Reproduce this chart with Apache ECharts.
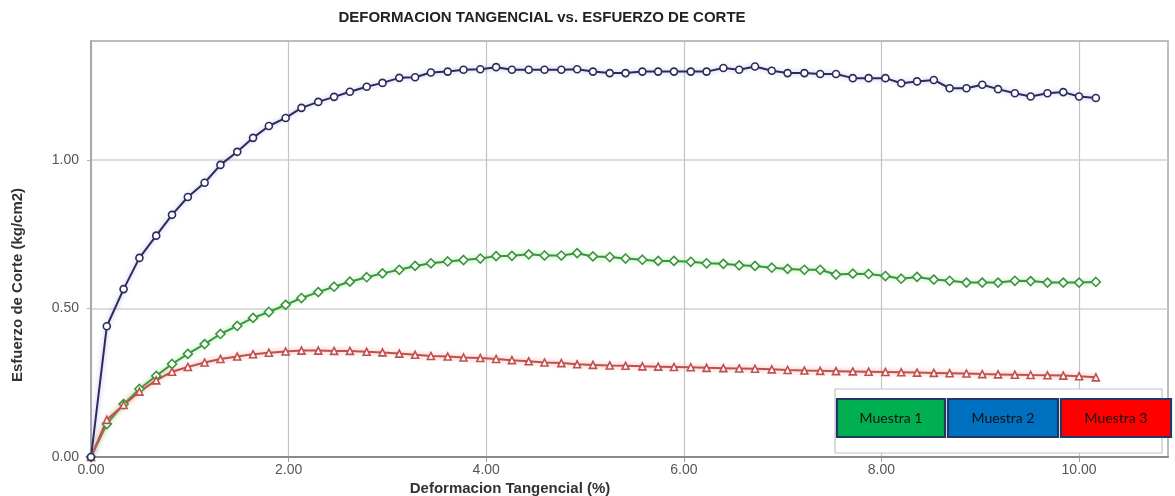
<!DOCTYPE html>
<html>
<head>
<meta charset="utf-8">
<script src="https://cdn.jsdelivr.net/npm/echarts@6/dist/echarts.min.js"></script>
<style>
html,body{margin:0;padding:0;background:#fff;}
#chart{width:1175px;height:496px;}
</style>
</head>
<body>
<div id="chart"></div>
<script>
// Deformacion tangencial (%) — shared x positions of the readings
var deformacion = [0, 0.16, 0.33, 0.49, 0.66, 0.82, 0.98, 1.15, 1.31, 1.48, 1.64, 1.80, 1.97, 2.13, 2.30, 2.46, 2.62, 2.79, 2.95, 3.12, 3.28, 3.44, 3.61, 3.77, 3.94, 4.10, 4.26, 4.43, 4.59, 4.76, 4.92, 5.08, 5.25, 5.41, 5.58, 5.74, 5.90, 6.07, 6.23, 6.40, 6.56, 6.72, 6.89, 7.05, 7.22, 7.38, 7.54, 7.71, 7.87, 8.04, 8.20, 8.36, 8.53, 8.69, 8.86, 9.02, 9.18, 9.35, 9.51, 9.68, 9.84, 10.00, 10.17];

// Esfuerzo de corte (kg/cm2)
var serieAzul = [0, 0.44, 0.565, 0.67, 0.745, 0.815, 0.875, 0.923, 0.983, 1.027, 1.074, 1.114, 1.141, 1.175, 1.195, 1.212, 1.229, 1.246, 1.259, 1.276, 1.278, 1.294, 1.297, 1.303, 1.305, 1.312, 1.303, 1.303, 1.303, 1.303, 1.305, 1.297, 1.292, 1.292, 1.297, 1.297, 1.297, 1.297, 1.297, 1.309, 1.303, 1.314, 1.300, 1.292, 1.292, 1.289, 1.289, 1.275, 1.275, 1.275, 1.258, 1.264, 1.269, 1.241, 1.241, 1.253, 1.238, 1.224, 1.213, 1.224, 1.228, 1.213, 1.208];

var serieVerde = [0, 0.111, 0.178, 0.229, 0.273, 0.313, 0.347, 0.380, 0.414, 0.441, 0.468, 0.488, 0.512, 0.535, 0.555, 0.573, 0.590, 0.605, 0.618, 0.630, 0.643, 0.652, 0.658, 0.663, 0.668, 0.676, 0.677, 0.682, 0.678, 0.678, 0.686, 0.675, 0.673, 0.668, 0.664, 0.660, 0.660, 0.657, 0.652, 0.650, 0.645, 0.643, 0.637, 0.633, 0.630, 0.630, 0.614, 0.617, 0.616, 0.609, 0.600, 0.606, 0.597, 0.593, 0.587, 0.587, 0.587, 0.593, 0.592, 0.587, 0.587, 0.587, 0.589];

var serieRoja = [0, 0.125, 0.175, 0.22, 0.258, 0.287, 0.303, 0.318, 0.330, 0.338, 0.346, 0.351, 0.355, 0.358, 0.358, 0.357, 0.357, 0.354, 0.352, 0.348, 0.344, 0.340, 0.338, 0.335, 0.333, 0.330, 0.326, 0.322, 0.318, 0.316, 0.312, 0.310, 0.308, 0.307, 0.305, 0.304, 0.303, 0.302, 0.300, 0.299, 0.298, 0.297, 0.295, 0.293, 0.291, 0.290, 0.289, 0.288, 0.287, 0.286, 0.285, 0.284, 0.283, 0.282, 0.281, 0.279, 0.278, 0.277, 0.276, 0.275, 0.274, 0.272, 0.268];

var ticksX = [0, 2, 4, 6, 8, 10];
var ticksY = [0, 0.5, 1.0];
var etiquetasLeyenda = ['Muestra 1', 'Muestra 2', 'Muestra 3'];
var tituloGrafico = 'DEFORMACION TANGENCIAL vs. ESFUERZO DE CORTE';
var tituloX = 'Deformacion Tangencial (%)';
var tituloY = 'Esfuerzo de Corte (kg/cm2)';

function pares(ys) {
  return deformacion.map(function (x, i) { return [x, ys[i]]; });
}

var FONT = '"Liberation Sans", Arial, sans-serif';
var chart = echarts.init(document.getElementById('chart'), null, {renderer: 'canvas'});

function serie(name, ys, color, glow, symbol, size) {
  return {
    name: name,
    type: 'line',
    data: pares(ys),
    symbol: symbol,
    symbolSize: size,
    showAllSymbol: true,
    lineStyle: {color: color, width: 2, shadowColor: glow, shadowBlur: 5},
    itemStyle: {color: '#ffffff', borderColor: color, borderWidth: 1.6},
    animation: false,
    z: 3
  };
}

var legendColors = ['#00B050', '#0070C0', '#FF0000'];
var legendX = [837, 948, 1061];
var legendW = [108, 110, 110];
var legendGraphics = [{
  type: 'rect',
  shape: {x: 835, y: 389, width: 327, height: 64},
  style: {fill: '#ffffff', stroke: '#c4c4c4', lineWidth: 1.2},
  z: 10
}];
etiquetasLeyenda.forEach(function (t, i) {
  legendGraphics.push({
    type: 'rect',
    shape: {x: legendX[i], y: 399, width: legendW[i], height: 38},
    style: {fill: legendColors[i], stroke: '#1F3864', lineWidth: 2.2},
    z: 11
  });
  legendGraphics.push({
    type: 'text',
    x: legendX[i] + legendW[i] / 2,
    y: 418,
    style: {text: t, fill: '#111111', font: '14px Lato, "Open Sans", sans-serif', textAlign: 'center', textVerticalAlign: 'middle'},
    z: 12
  });
});

var option = {
  backgroundColor: '#ffffff',
  animation: false,
  grid: {left: 91, right: 7, top: 41, bottom: 39, show: true, borderColor: '#a8a8a8', borderWidth: 1.5, containLabel: false},
  xAxis: {
    type: 'value', min: 0, max: 10.9, interval: 2,
    axisLine: {show: true, lineStyle: {color: '#8a8a8a', width: 2}},
    axisTick: {show: true, length: 5, customValues: ticksX, lineStyle: {color: '#9a9a9a'}},
    splitLine: {show: true, lineStyle: {color: '#c4c4c4', width: 1.2}},
    axisLabel: {
      color: '#555555', fontSize: 14, fontFamily: FONT, margin: 6,
      customValues: ticksX,
      formatter: function (v) { return Number(v).toFixed(2); }
    }
  },
  yAxis: {
    type: 'value', min: 0, max: 1.4, interval: 0.5,
    axisLine: {show: true, lineStyle: {color: '#a0a0a0', width: 1.5}},
    axisTick: {show: true, length: 4, customValues: ticksY, lineStyle: {color: '#b0b0b0'}},
    splitLine: {show: true, lineStyle: {color: '#d0d0d0', width: 1.5}},
    axisLabel: {
      color: '#555555', fontSize: 14, fontFamily: FONT, margin: 12,
      customValues: ticksY,
      formatter: function (v) { return Number(v).toFixed(2); }
    }
  },
  series: [
    serie('Muestra 2', serieVerde, '#3a963a', 'rgba(120,220,120,0.8)', 'diamond', 9),
    serie('Muestra 3', serieRoja, '#c0504d', 'rgba(240,140,140,0.8)', 'triangle', 7),
    serie('Muestra 1', serieAzul, '#2b2b5e', 'rgba(150,150,220,0.7)', 'circle', 7)
  ],
  graphic: [
    {
      type: 'text', x: 542, y: 18,
      style: {text: tituloGrafico, font: 'bold 15px ' + FONT, fill: '#222222', textAlign: 'center', textVerticalAlign: 'middle'}
    },
    {
      type: 'text', x: 510, y: 489,
      style: {text: tituloX, font: 'bold 15px ' + FONT, fill: '#333333', textAlign: 'center', textVerticalAlign: 'middle'}
    },
    {
      type: 'text', x: 18, y: 285, rotation: Math.PI / 2,
      style: {text: tituloY, font: 'bold 15px ' + FONT, fill: '#333333', textAlign: 'center', textVerticalAlign: 'middle'}
    }
  ].concat(legendGraphics)
};
chart.setOption(option);
</script>
</body>
</html>
